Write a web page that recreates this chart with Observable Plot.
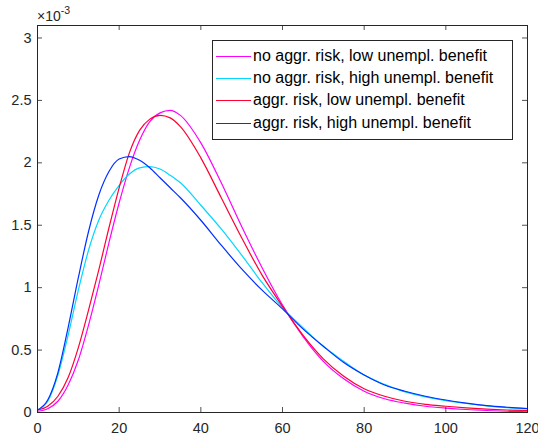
<!DOCTYPE html>
<html>
<head>
<meta charset="utf-8">
<script src="https://cdn.jsdelivr.net/npm/d3@7"></script>
<script src="https://cdn.jsdelivr.net/npm/@observablehq/plot@0.6"></script>
<style>
  html, body { margin: 0; padding: 0; background: #fff; }
  #wrap { position: relative; width: 538px; height: 438px; font-family: "Liberation Sans", Arial, sans-serif; color: #262626; }
  #legend { position: absolute; left: 212px; top: 40px; width: 301px; height: 100px; border: 1px solid #262626; background: #fff; box-sizing: border-box; }
  .row { position: absolute; left: 0; display: flex; align-items: center; height: 22px; font-size: 16px; color: #000; white-space: nowrap; }
  .sw { display: inline-block; width: 35px; height: 1px; margin-left: 3px; margin-right: 2px; }
  #expo { position: absolute; left: 37px; top: 5px; font-size: 14px; color: #262626; }
  #expo sup { font-size: 10.5px; position: relative; top: -1px; }
</style>
</head>
<body>
<div id="wrap"></div>
<script>
const xs = [0,2.5,5,7.5,10,12.5,15,17.5,20,22.5,25,27.5,30,32.5,35,40,45,50,55,60,65,70,75,80,85,90,95,100,105,110,115,120];
const noAggrLow  = [0.01,0.03,0.09,0.22,0.42,0.70,1.02,1.36,1.68,1.96,2.18,2.33,2.40,2.42,2.38,2.16,1.84,1.49,1.16,0.86,0.61,0.41,0.27,0.17,0.11,0.075,0.05,0.035,0.024,0.016,0.01,0.006];
const noAggrHigh = [0.02,0.09,0.30,0.62,0.98,1.30,1.54,1.70,1.82,1.91,1.96,1.97,1.95,1.90,1.84,1.66,1.47,1.26,1.04,0.84,0.68,0.53,0.41,0.30,0.225,0.165,0.125,0.095,0.072,0.053,0.039,0.029];
const aggrLow    = [0.02,0.05,0.13,0.28,0.52,0.82,1.14,1.48,1.80,2.08,2.26,2.35,2.38,2.36,2.29,2.04,1.72,1.40,1.10,0.85,0.62,0.43,0.29,0.19,0.13,0.09,0.065,0.05,0.037,0.027,0.02,0.015];
const aggrHigh   = [0.02,0.10,0.32,0.68,1.08,1.45,1.74,1.93,2.03,2.05,2.02,1.96,1.88,1.80,1.72,1.54,1.34,1.15,0.98,0.83,0.67,0.53,0.40,0.30,0.22,0.17,0.13,0.10,0.075,0.055,0.042,0.032];

const seriesNames = ["no aggr. risk, low unempl. benefit","no aggr. risk, high unempl. benefit","aggr. risk, low unempl. benefit","aggr. risk, high unempl. benefit"];
const seriesColors = ["#ff00ff","#00d8ff","#ff0030","#0030ff"];
const seriesValues = [noAggrLow, noAggrHigh, aggrLow, aggrHigh];

const xTicks = [0,20,40,60,80,100,120];
const yTicks = [0,0.5,1,1.5,2,2.5,3];
const yTickLabels = ["0","0.5","1","1.5","2","2.5","3"];

const rows = [];
seriesValues.forEach((vals, i) => vals.forEach((v, j) => rows.push({x: xs[j], y: v, s: seriesNames[i]})));

const yMax = 3.1;
const tickLenY = yMax * 5 / 387;
const tickLenX = 120 * 5 / 490;
const ink = "#262626";

const chart = Plot.plot({
  width: 538,
  height: 438,
  marginLeft: 37,
  marginRight: 11,
  marginTop: 25,
  marginBottom: 26,
  style: {fontFamily: "'Liberation Sans', Arial, sans-serif", fontSize: "14.5px", color: ink, background: "#fff"},
  x: {domain: [0, 120]},
  y: {domain: [0, yMax]},
  color: {domain: seriesNames, range: seriesColors},
  marks: [
    Plot.line(rows, {x: "x", y: "y", z: "s", stroke: "s", strokeWidth: 1.2, curve: "monotone-x"}),
    Plot.ruleX(xTicks, {x: d => d, y1: 0, y2: tickLenY, stroke: ink, strokeWidth: 0.8}),
    Plot.ruleX(xTicks, {x: d => d, y1: yMax - tickLenY, y2: yMax, stroke: ink, strokeWidth: 0.8}),
    Plot.ruleY(yTicks, {y: d => d, x1: 0, x2: tickLenX, stroke: ink, strokeWidth: 0.8}),
    Plot.ruleY(yTicks, {y: d => d, x1: 120 - tickLenX, x2: 120, stroke: ink, strokeWidth: 0.8}),
    Plot.axisX(xTicks, {tickSize: 0, tickPadding: 10, fontSize: 14.5, fill: ink, label: null}),
    Plot.axisY(yTicks, {tickSize: 0, tickPadding: 6, fontSize: 14.5, fill: ink, label: null, tickFormat: (d, i) => yTickLabels[i]}),
    Plot.frame({stroke: ink, strokeWidth: 1})
  ]
});

const wrap = document.getElementById("wrap");
wrap.appendChild(chart);

const expo = document.createElement("div");
expo.id = "expo";
expo.innerHTML = "\u00d710<sup>-3</sup>";
wrap.appendChild(expo);

const legend = document.createElement("div");
legend.id = "legend";
const rowTops = [4, 26, 48, 71];
seriesNames.forEach((n, i) => {
  const r = document.createElement("div");
  r.className = "row";
  r.style.top = rowTops[i] + "px";
  const sw = document.createElement("span");
  sw.className = "sw";
  sw.style.background = seriesColors[i];
  const t = document.createElement("span");
  t.textContent = n;
  r.appendChild(sw); r.appendChild(t);
  legend.appendChild(r);
});
wrap.appendChild(legend);
</script>
</body>
</html>
